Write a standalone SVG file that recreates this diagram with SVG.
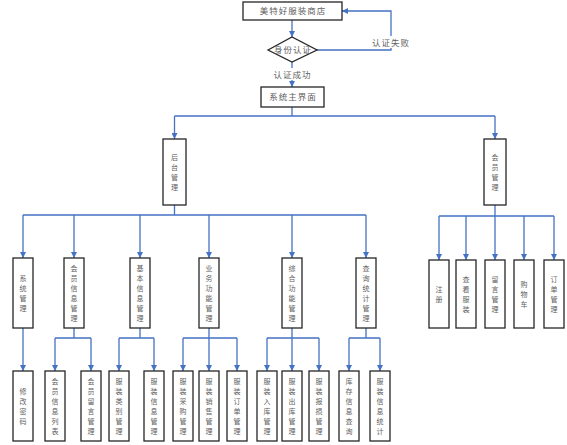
<svg xmlns="http://www.w3.org/2000/svg" width="567" height="445" viewBox="0 0 567 445">
<defs>
<marker id="arr" markerUnits="userSpaceOnUse" markerWidth="6" markerHeight="6" refX="6" refY="3" orient="auto">
<path d="M0,0 L6,3 L0,6 z" fill="#4472C4"/>
</marker>
<style>
.box{fill:#fff;stroke:#262626;stroke-width:1.3}
.t{font-family:"Noto Sans CJK SC","Liberation Sans",sans-serif;font-size:8.5px;fill:#606060;text-anchor:middle}
.h{letter-spacing:1px}
.v{font-size:7px}
.c{fill:none;stroke:#4472C4;stroke-width:1.3}
.a{marker-end:url(#arr)}
.lbl{fill:#fff}
</style>
</defs>
<rect width="567" height="445" fill="#fff"/>

<g id="connectors">
<path class="c a" d="M292,20 V37"/>
<path class="c a" d="M317,50 H391 V11 H342"/>
<path class="c a" d="M292,62 V87"/>
<path class="c" d="M292,107 V116 M174.5,116 H495"/>
<path class="c a" d="M174.5,116 V139"/>
<path class="c a" d="M495,116 V139"/>
<path class="c" d="M174.5,205 V215 M23,215 H366"/>
<path class="c a" d="M23,215 V258"/>
<path class="c a" d="M74,215 V258"/>
<path class="c a" d="M140,215 V258"/>
<path class="c a" d="M209,215 V258"/>
<path class="c a" d="M292,215 V258"/>
<path class="c a" d="M366,215 V258"/>
<path class="c" d="M495,205 V216 M439,216 H554"/>
<path class="c a" d="M439,216 V260"/>
<path class="c a" d="M466,216 V260"/>
<path class="c a" d="M495,216 V260"/>
<path class="c a" d="M524,216 V260"/>
<path class="c a" d="M554,216 V260"/>
<path class="c a" d="M23,328 V371"/>
<path class="c" d="M74,328 V338 M55,338 H91"/>
<path class="c a" d="M55,338 V371"/>
<path class="c a" d="M91,338 V371"/>
<path class="c" d="M140,328 V338 M119,338 H154"/>
<path class="c a" d="M119,338 V371"/>
<path class="c a" d="M154,338 V371"/>
<path class="c" d="M209,328 V338 M183,338 H237"/>
<path class="c a" d="M183,338 V371"/>
<path class="c a" d="M209,338 V371"/>
<path class="c a" d="M237,338 V371"/>
<path class="c" d="M292,328 V338 M267,338 H319"/>
<path class="c a" d="M267,338 V371"/>
<path class="c a" d="M292,338 V371"/>
<path class="c a" d="M319,338 V371"/>
<path class="c" d="M366,328 V338 M349,338 H380"/>
<path class="c a" d="M349,338 V371"/>
<path class="c a" d="M380,338 V371"/>
<rect class="lbl" x="372" y="36" width="37" height="12"/>
<text class="t h" x="391" y="45.5">认证失败</text>
<rect class="lbl" x="273" y="68" width="38" height="12"/>
<text class="t h" x="292.5" y="77.5">认证成功</text>
</g>

<g id="store"><rect class="box" x="243" y="2" width="99" height="18"/><text class="t h" x="293" y="14.2">美特好服装商店</text></g>
<g id="auth"><polygon class="box" points="268,50 292,37 317,50 292,62"/><text class="t h" x="293" y="53.2">身份认证</text></g>
<g id="main"><rect class="box" x="261" y="87" width="63" height="20"/><text class="t h" x="293" y="100.2">系统主界面</text></g>

<g id="backend"><rect class="box" x="163" y="139" width="23" height="66"/><text class="t v" y="159.7"><tspan x="174.5">后</tspan><tspan x="174.5" dy="10">台</tspan><tspan x="174.5" dy="10">管</tspan><tspan x="174.5" dy="10">理</tspan></text></g>
<g id="member"><rect class="box" x="484" y="139" width="22" height="66"/><text class="t v" y="159.7"><tspan x="495">会</tspan><tspan x="495" dy="10">员</tspan><tspan x="495" dy="10">管</tspan><tspan x="495" dy="10">理</tspan></text></g>

<g id="sysmgr"><rect class="box" x="13" y="258" width="20" height="70"/><text class="t v" y="280.7"><tspan x="23">系</tspan><tspan x="23" dy="10">统</tspan><tspan x="23" dy="10">管</tspan><tspan x="23" dy="10">理</tspan></text></g>
<g id="meminfo"><rect class="box" x="64" y="258" width="20" height="70"/><text class="t v" y="270.7"><tspan x="74">会</tspan><tspan x="74" dy="10">员</tspan><tspan x="74" dy="10">信</tspan><tspan x="74" dy="10">息</tspan><tspan x="74" dy="10">管</tspan><tspan x="74" dy="10">理</tspan></text></g>
<g id="basic"><rect class="box" x="130" y="258" width="20" height="70"/><text class="t v" y="270.7"><tspan x="140">基</tspan><tspan x="140" dy="10">本</tspan><tspan x="140" dy="10">信</tspan><tspan x="140" dy="10">息</tspan><tspan x="140" dy="10">管</tspan><tspan x="140" dy="10">理</tspan></text></g>
<g id="biz"><rect class="box" x="199" y="258" width="20" height="70"/><text class="t v" y="270.7"><tspan x="209">业</tspan><tspan x="209" dy="10">务</tspan><tspan x="209" dy="10">功</tspan><tspan x="209" dy="10">能</tspan><tspan x="209" dy="10">管</tspan><tspan x="209" dy="10">理</tspan></text></g>
<g id="comp"><rect class="box" x="282" y="258" width="20" height="70"/><text class="t v" y="270.7"><tspan x="292">综</tspan><tspan x="292" dy="10">合</tspan><tspan x="292" dy="10">功</tspan><tspan x="292" dy="10">能</tspan><tspan x="292" dy="10">管</tspan><tspan x="292" dy="10">理</tspan></text></g>
<g id="query"><rect class="box" x="356" y="258" width="20" height="70"/><text class="t v" y="270.7"><tspan x="366">查</tspan><tspan x="366" dy="10">询</tspan><tspan x="366" dy="10">统</tspan><tspan x="366" dy="10">计</tspan><tspan x="366" dy="10">管</tspan><tspan x="366" dy="10">理</tspan></text></g>

<g id="register"><rect class="box" x="429" y="260" width="20" height="68"/><text class="t v" y="291.7"><tspan x="439">注</tspan><tspan x="439" dy="10">册</tspan></text></g>
<g id="browse"><rect class="box" x="456" y="260" width="20" height="68"/><text class="t v" y="281.7"><tspan x="466">查</tspan><tspan x="466" dy="10">看</tspan><tspan x="466" dy="10">服</tspan><tspan x="466" dy="10">装</tspan></text></g>
<g id="message"><rect class="box" x="485" y="260" width="20" height="68"/><text class="t v" y="281.7"><tspan x="495">留</tspan><tspan x="495" dy="10">言</tspan><tspan x="495" dy="10">管</tspan><tspan x="495" dy="10">理</tspan></text></g>
<g id="cart"><rect class="box" x="514" y="260" width="20" height="68"/><text class="t v" y="286.7"><tspan x="524">购</tspan><tspan x="524" dy="10">物</tspan><tspan x="524" dy="10">车</tspan></text></g>
<g id="order"><rect class="box" x="544" y="260" width="20" height="68"/><text class="t v" y="281.7"><tspan x="554">订</tspan><tspan x="554" dy="10">单</tspan><tspan x="554" dy="10">管</tspan><tspan x="554" dy="10">理</tspan></text></g>

<g id="pwd"><rect class="box" x="13" y="371" width="20" height="70"/><text class="t v" y="393.7"><tspan x="23">修</tspan><tspan x="23" dy="10">改</tspan><tspan x="23" dy="10">密</tspan><tspan x="23" dy="10">码</tspan></text></g>
<g id="memlist"><rect class="box" x="45" y="371" width="20" height="70"/><text class="t v" y="383.7"><tspan x="55">会</tspan><tspan x="55" dy="10">员</tspan><tspan x="55" dy="10">信</tspan><tspan x="55" dy="10">息</tspan><tspan x="55" dy="10">列</tspan><tspan x="55" dy="10">表</tspan></text></g>
<g id="memmsg"><rect class="box" x="81" y="371" width="20" height="70"/><text class="t v" y="383.7"><tspan x="91">会</tspan><tspan x="91" dy="10">员</tspan><tspan x="91" dy="10">留</tspan><tspan x="91" dy="10">言</tspan><tspan x="91" dy="10">管</tspan><tspan x="91" dy="10">理</tspan></text></g>
<g id="cat"><rect class="box" x="109" y="371" width="20" height="70"/><text class="t v" y="383.7"><tspan x="119">服</tspan><tspan x="119" dy="10">装</tspan><tspan x="119" dy="10">类</tspan><tspan x="119" dy="10">别</tspan><tspan x="119" dy="10">管</tspan><tspan x="119" dy="10">理</tspan></text></g>
<g id="cloth"><rect class="box" x="144" y="371" width="20" height="70"/><text class="t v" y="383.7"><tspan x="154">服</tspan><tspan x="154" dy="10">装</tspan><tspan x="154" dy="10">信</tspan><tspan x="154" dy="10">息</tspan><tspan x="154" dy="10">管</tspan><tspan x="154" dy="10">理</tspan></text></g>
<g id="purchase"><rect class="box" x="173" y="371" width="20" height="70"/><text class="t v" y="383.7"><tspan x="183">服</tspan><tspan x="183" dy="10">装</tspan><tspan x="183" dy="10">采</tspan><tspan x="183" dy="10">购</tspan><tspan x="183" dy="10">管</tspan><tspan x="183" dy="10">理</tspan></text></g>
<g id="sales"><rect class="box" x="199" y="371" width="20" height="70"/><text class="t v" y="383.7"><tspan x="209">服</tspan><tspan x="209" dy="10">装</tspan><tspan x="209" dy="10">销</tspan><tspan x="209" dy="10">售</tspan><tspan x="209" dy="10">管</tspan><tspan x="209" dy="10">理</tspan></text></g>
<g id="corder"><rect class="box" x="227" y="371" width="20" height="70"/><text class="t v" y="383.7"><tspan x="237">服</tspan><tspan x="237" dy="10">装</tspan><tspan x="237" dy="10">订</tspan><tspan x="237" dy="10">单</tspan><tspan x="237" dy="10">管</tspan><tspan x="237" dy="10">理</tspan></text></g>
<g id="instock"><rect class="box" x="257" y="371" width="20" height="70"/><text class="t v" y="383.7"><tspan x="267">服</tspan><tspan x="267" dy="10">装</tspan><tspan x="267" dy="10">入</tspan><tspan x="267" dy="10">库</tspan><tspan x="267" dy="10">管</tspan><tspan x="267" dy="10">理</tspan></text></g>
<g id="outstock"><rect class="box" x="282" y="371" width="20" height="70"/><text class="t v" y="383.7"><tspan x="292">服</tspan><tspan x="292" dy="10">装</tspan><tspan x="292" dy="10">出</tspan><tspan x="292" dy="10">库</tspan><tspan x="292" dy="10">管</tspan><tspan x="292" dy="10">理</tspan></text></g>
<g id="loss"><rect class="box" x="309" y="371" width="20" height="70"/><text class="t v" y="383.7"><tspan x="319">服</tspan><tspan x="319" dy="10">装</tspan><tspan x="319" dy="10">报</tspan><tspan x="319" dy="10">损</tspan><tspan x="319" dy="10">管</tspan><tspan x="319" dy="10">理</tspan></text></g>
<g id="stockq"><rect class="box" x="339" y="371" width="20" height="70"/><text class="t v" y="383.7"><tspan x="349">库</tspan><tspan x="349" dy="10">存</tspan><tspan x="349" dy="10">信</tspan><tspan x="349" dy="10">息</tspan><tspan x="349" dy="10">查</tspan><tspan x="349" dy="10">询</tspan></text></g>
<g id="stats"><rect class="box" x="370" y="371" width="20" height="70"/><text class="t v" y="383.7"><tspan x="380">服</tspan><tspan x="380" dy="10">装</tspan><tspan x="380" dy="10">信</tspan><tspan x="380" dy="10">息</tspan><tspan x="380" dy="10">统</tspan><tspan x="380" dy="10">计</tspan></text></g>
</svg>
